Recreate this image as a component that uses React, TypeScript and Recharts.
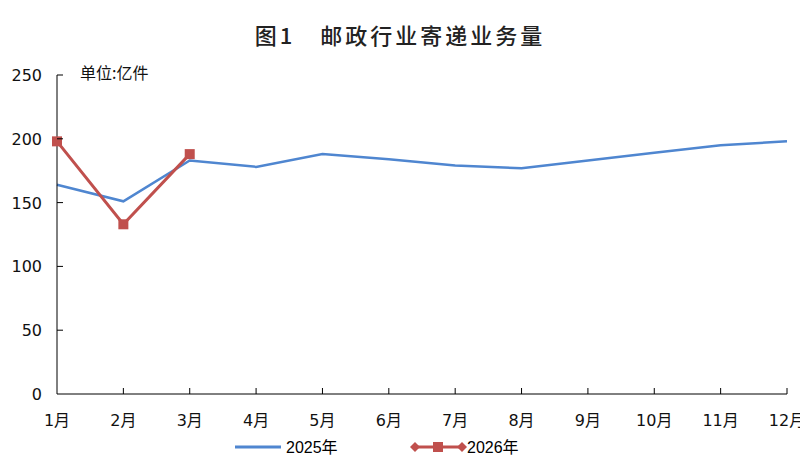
import React from 'react';
import { LineChart, Line, XAxis, YAxis } from 'recharts';

const months = ['1月', '2月', '3月', '4月', '5月', '6月', '7月', '8月', '9月', '10月', '11月', '12月'];
const volume2025 = [164, 151, 183, 178, 188, 184, 179, 177, 183, 189, 195, 198];
const volume2026: (number | null)[] = [198, 133, 188];
const yTicks = [0, 50, 100, 150, 200, 250];

const data = months.map((m, i) => ({
  month: m,
  y2025: volume2025[i],
  y2026: i < volume2026.length ? volume2026[i] : null,
}));

const BLUE = '#4F86D0';
const RED = '#C0504D';
const sans = '"DejaVu Sans", "Noto Sans CJK SC", sans-serif';

const SquareDot = (props: any) => {
  const { cx, cy, value } = props;
  if (value == null || cx == null) return null;
  return <rect x={cx - 5} y={cy - 5} width={10} height={10} fill={RED} />;
};

// x ticks point up into the plot, labels sit below
const MonthTick = (props: any) => {
  const { x, y, payload, index } = props;
  const axisY = y - 14;
  return (
    <g>
      {index > 0 && <line x1={x} y1={axisY} x2={x} y2={axisY - 6} stroke="#000" />}
      <text x={x} y={axisY + 32} textAnchor="middle" fontSize={16} fontFamily={sans} fill="#111">
        {payload.value}
      </text>
    </g>
  );
};

// y ticks also point inward (right of the axis)
const ValueTick = (props: any) => {
  const { x, y, payload } = props;
  const axisX = x + 15;
  return (
    <g>
      {payload.value > 0 && <line x1={axisX} y1={y} x2={axisX + 6} y2={y} stroke="#000" />}
      <text x={axisX - 15} y={y + 6} textAnchor="end" fontSize={16} fontFamily={sans} fill="#111">
        {payload.value}
      </text>
    </g>
  );
};

const App: React.FC = () => {
  return (
    <div style={{ position: 'absolute', left: 0, top: 0, width: 800, height: 464, background: '#fff' }}>
      <div
        style={{
          position: 'absolute', left: 0, top: 18, width: 800, textAlign: 'center',
          fontFamily: '"Noto Sans CJK SC", sans-serif', fontSize: 22, fontWeight: 500,
          letterSpacing: 3, color: '#222',
        }}
      >
        图1　邮政行业寄递业务量
      </div>
      <div
        style={{
          position: 'absolute', left: 80, top: 60, fontFamily: '"Noto Sans CJK SC", sans-serif',
          fontSize: 16, color: '#111',
        }}
      >
        单位:亿件
      </div>
      <LineChart width={800} height={464} data={data} margin={{ top: 75, right: 13, bottom: 40, left: 0 }}>
        <XAxis
          dataKey="month"
          tickLine={false}
          tickSize={0}
          tickMargin={14}
          tick={<MonthTick />}
          interval={0}
          axisLine={{ stroke: '#000' }}
          height={30}
        />
        <YAxis
          domain={[0, 250]}
          ticks={yTicks}
          width={57}
          tickLine={false}
          tickSize={0}
          tickMargin={15}
          axisLine={{ stroke: '#000' }}
          tick={<ValueTick />}
        />
        <Line
          dataKey="y2025"
          stroke={BLUE}
          strokeWidth={2.5}
          dot={false}
          isAnimationActive={false}
        />
        <Line
          dataKey="y2026"
          stroke={RED}
          strokeWidth={3}
          dot={<SquareDot />}
          activeDot={false}
          connectNulls={false}
          isAnimationActive={false}
        />
      </LineChart>
      <svg style={{ position: 'absolute', left: 0, top: 432 }} width={800} height={30}>
        <line x1={235} y1={15} x2={281} y2={15} stroke={BLUE} strokeWidth={3} />
        <text x={286} y={21} fontSize={16} fontFamily='"Liberation Sans", "Noto Sans CJK SC", sans-serif' fill="#000">
          2025年
        </text>
        <line x1={415} y1={15} x2={462} y2={15} stroke={RED} strokeWidth={3} />
        <polygon points="410,15 415,10 420,15 415,20" fill={RED} />
        <polygon points="457,15 462,10 467,15 462,20" fill={RED} />
        <rect x={433} y={10} width={10} height={10} fill={RED} />
        <text x={467} y={21} fontSize={16} fontFamily='"Liberation Sans", "Noto Sans CJK SC", sans-serif' fill="#000">
          2026年
        </text>
      </svg>
    </div>
  );
};

export default App;
